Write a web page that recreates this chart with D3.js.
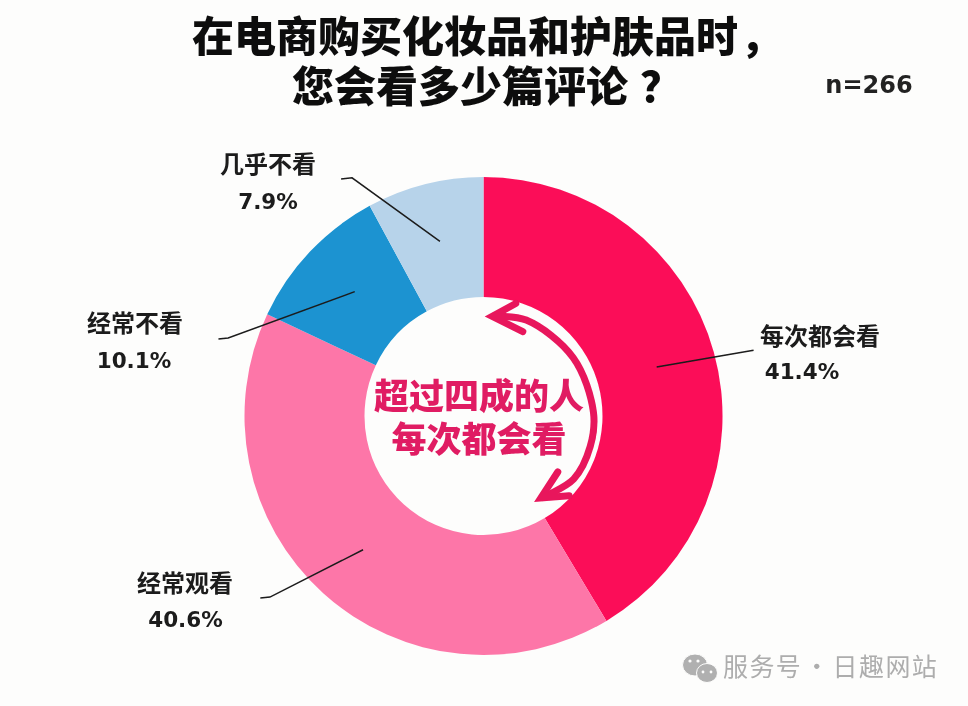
<!DOCTYPE html>
<html><head><meta charset="utf-8">
<script src="https://cdnjs.cloudflare.com/ajax/libs/d3/7.8.5/d3.min.js"></script>
<style>html,body{margin:0;padding:0;background:#fdfdfc}svg{display:block}text{font-family:"Noto Sans CJK SC","Noto Sans",sans-serif}</style>
</head><body><svg id="c" width="968" height="706"></svg>
<script>
const categories=["每次都会看","经常观看","经常不看","几乎不看"];
const values=[41.4,40.6,10.1,7.9];
const colors=["#fb0c58","#fd76a8","#1a93d1","#b7d3ea"];
const valueLabels=["41.4%","40.6%","10.1%","7.9%"];
const titleLines=["在电商购买化妆品和护肤品时","您会看多少篇评论"];
const titlePunct=["，","？"];
const sampleNote="n=266";
const centerLines=["超过四成的人","每次都会看"];
const footer="服务号 · 日趣网站";

const W=968,H=706,cx=483.5,cy=416,R=239,r=119;
const svg=d3.select("#c");
const defs=svg.append("defs");
const blur=defs.append("filter").attr("id","soft").attr("x","-5%").attr("y","-5%").attr("width","110%").attr("height","110%");
blur.append("feGaussianBlur").attr("stdDeviation",0.45);

const g=svg.append("g").attr("filter","url(#soft)");

const titleX=[192,292],titleY=[52,102],punctX=[740,640];
g.selectAll("text.title").data(titleLines).join("text").attr("class","title")
 .attr("x",(d,i)=>titleX[i]).attr("y",(d,i)=>titleY[i])
 .attr("font-size",42).attr("font-weight",900).attr("fill","#0d0d0d").text(d=>d);
g.selectAll("text.punct").data(titlePunct).join("text").attr("class","punct")
 .attr("x",(d,i)=>punctX[i]).attr("y",(d,i)=>titleY[i])
 .attr("font-size",42).attr("font-weight",900).attr("fill","#0d0d0d").text(d=>d);
g.append("text").attr("x",869).attr("y",93).attr("text-anchor","middle")
 .style("font-family","'DejaVu Sans'").attr("font-size",24).attr("font-weight",700).attr("fill","#222").text(sampleNote);

const pie=d3.pie().sort(null).value(d=>d)(values);
const arc=d3.arc().innerRadius(r).outerRadius(R);
const donut=g.append("g").attr("transform",`translate(${cx},${cy})`);
donut.selectAll("path").data(pie).join("path").attr("d",arc).attr("fill",(d,i)=>colors[i]);

// leader lines, in polar form: [angle deg, radius] from the slice to the label
const leaderPolar=[
 [[74.2,180],[76.3,278],[76.3,278]],
 [[222,180],[229.7,280],[230.8,288]],
 [[314,179],[287,267],[286.2,276]],
 [[346,180],[331.1,272],[329,276.5]]
];
const toXY=([a,d])=>{const t=a*Math.PI/180;return [d*Math.sin(t),-d*Math.cos(t)];};
const line=d3.line();
donut.selectAll("path.leader").data(leaderPolar).join("path").attr("class","leader")
 .attr("d",d=>line(d.map(toXY))).attr("fill","none").attr("stroke","#1b1b1b").attr("stroke-width",1.5);

// curved double arrow
const pink="#e8155c";
const arrowCurve=[[5,100],[24,105],[57,107],[88,110],[106,111],[125,110],[145,100]];
const radial=d3.line().curve(d3.curveCatmullRom.alpha(0.5));
donut.append("path").attr("d",radial(arrowCurve.map(toXY))).attr("fill","none").attr("stroke",pink).attr("stroke-width",7);
const headTop=[[16,117],[5,100],[25,93]];
const headBottom=[[127,93],[145,100],[133,117]];
[headTop,headBottom].forEach(h=>donut.append("path").attr("d",line(h.map(toXY))).attr("fill","none").attr("stroke",pink).attr("stroke-width",7).attr("stroke-linejoin","miter").attr("stroke-linecap","round"));

const centerY=[409,452];
g.selectAll("text.center").data(centerLines).join("text").attr("class","center")
 .attr("x",479).attr("y",(d,i)=>centerY[i]).attr("text-anchor","middle")
 .attr("font-size",35).attr("font-weight",900).attr("fill","#e01f63").text(d=>d);

const labelPos=[[820,345,379,802],[185,592,627,185.5],[135,332,368,134],[268,173,209,268]];
const lab=g.append("g").selectAll("g").data(categories).join("g");
lab.append("text").attr("x",(d,i)=>labelPos[i][0]).attr("y",(d,i)=>labelPos[i][1]).attr("text-anchor","middle")
 .attr("font-size",24).attr("font-weight",700).attr("fill","#1a1a1a").text(d=>d);
lab.append("text").attr("x",(d,i)=>labelPos[i][3]).attr("y",(d,i)=>labelPos[i][2]).attr("text-anchor","middle")
 .style("font-family","'DejaVu Sans'").attr("font-size",21.5).attr("font-weight",700).attr("fill","#1a1a1a").text((d,i)=>valueLabels[i]);

// watermark
const wm=svg.append("g");
const bubbles=[[695,665,12.5,11],[707,673,10.5,9.5]];
wm.selectAll("ellipse").data(bubbles).join("ellipse").attr("cx",d=>d[0]).attr("cy",d=>d[1]).attr("rx",d=>d[2]).attr("ry",d=>d[3]).attr("fill","#b0b0b0").attr("stroke","#fdfdfc").attr("stroke-width",1);
const eyes=[[690,661,1.6],[698,661,1.6],[703,672,1.4],[711,672,1.4]];
wm.selectAll("circle").data(eyes).join("circle").attr("cx",d=>d[0]).attr("cy",d=>d[1]).attr("r",d=>d[2]).attr("fill","#fdfdfc");
wm.append("text").attr("x",723).attr("y",676).attr("font-size",25).attr("letter-spacing",1.4).attr("word-spacing",-5).attr("fill","#adadad").text(footer);
</script></body></html>
